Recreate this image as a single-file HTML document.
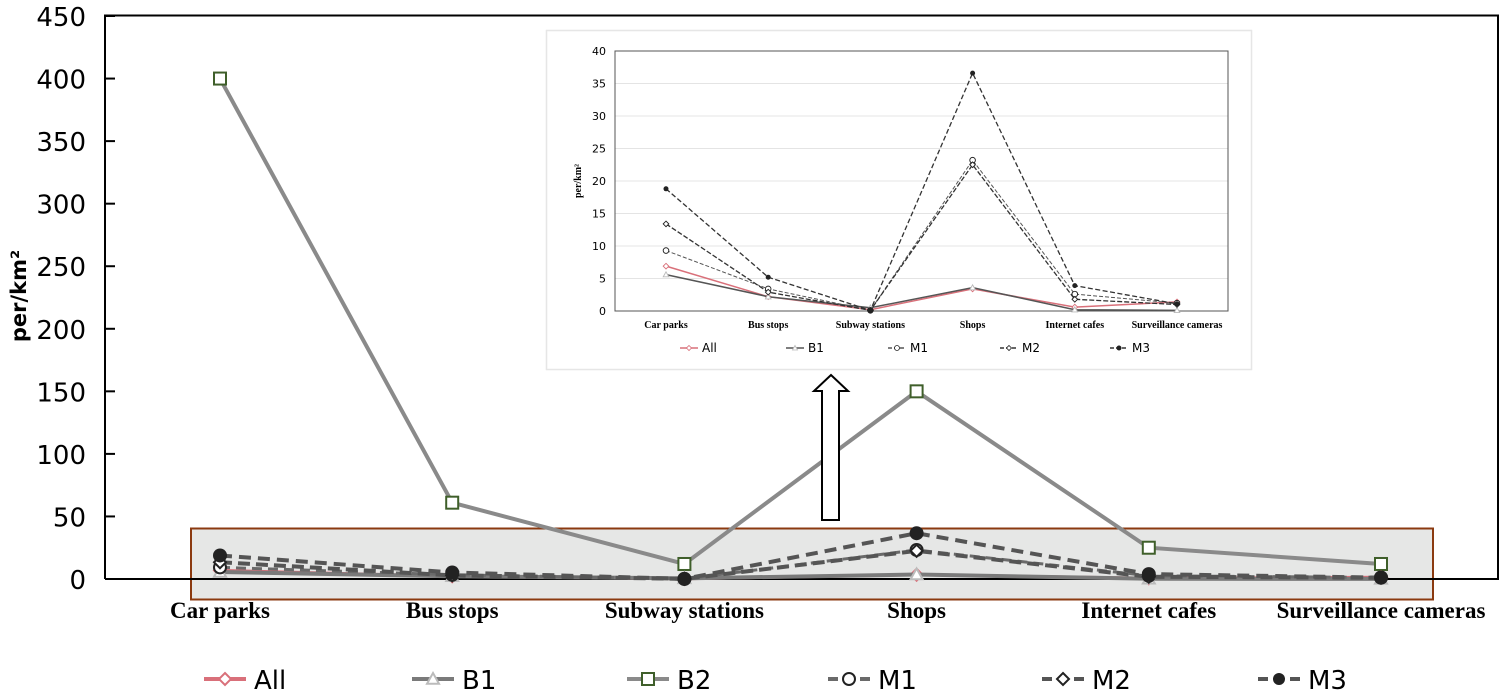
<!DOCTYPE html>
<html><head><meta charset="utf-8"><style>
html,body{margin:0;padding:0;background:#fff;}
svg{display:block;}
</style></head><body>
<svg id="s" xmlns="http://www.w3.org/2000/svg" width="1501" height="693" viewBox="0 0 1501 693"></svg>
<script>
var s=document.getElementById('s');var h='';
var cats=["Car parks","Bus stops","Subway stations","Shops","Internet cafes","Surveillance cameras"];
var D={All:[6.9,2.2,0.2,3.4,0.6,1.4],B1:[5.6,2.2,0.5,3.6,0.2,0.1],M1:[9.3,3.4,0.1,23.2,2.6,1.2],M2:[13.4,2.9,0.1,22.5,1.8,1.0],M3:[18.8,5.2,0.1,36.6,3.9,1.1],B2:[400,61,12,150,25,12]};
function mx(i){return 220+232.2*i;} function my(v){return 579-1.2511*v;}
h+='<rect x="191" y="528.5" width="1242" height="71" fill="#e6e7e6" stroke="#8b3a10" stroke-width="2"/>';
h+='<path d="M105,579 V15.5 H1498 V579 H105" fill="none" stroke="#000" stroke-width="2"/>';
for(var v=0;v<=450;v+=50){var y=my(v);h+='<line x1="105" x2="115" y1="'+y+'" y2="'+y+'" stroke="#000" stroke-width="2"/>';
h+='<text x="86" y="'+(y+10)+'" text-anchor="end" font-family="DejaVu Sans,Liberation Sans,sans-serif" font-size="26">'+v+'</text>';}
h+='<text transform="translate(26,296) rotate(-90)" text-anchor="middle" font-family="DejaVu Sans,Liberation Sans,sans-serif" font-weight="bold" font-size="21">per/km²</text>';
for(var i=0;i<6;i++)h+='<text x="'+mx(i)+'" y="618" text-anchor="middle" font-family="Liberation Serif,serif" font-weight="bold" font-size="23">'+cats[i]+'</text>';
function pts(a,fx,fy){return a.map(function(v,i){return fx(i)+','+fy(v)}).join(' ');}
var st={All:{c:'#d9707a',w:3,d:''},B1:{c:'#7a7a7a',w:4,d:''},B2:{c:'#8a8a8a',w:4,d:''},M1:{c:'#6a6a6a',w:3,d:'10,6'},M2:{c:'#555',w:4,d:'12,6'},M3:{c:'#555',w:4,d:'12,7'}};
function marker(k,x,y,sz,col){
 if(k=='All')return '<path d="M'+x+','+(y-sz)+' L'+(x+sz)+','+y+' L'+x+','+(y+sz)+' L'+(x-sz)+','+y+'Z" fill="#fff" stroke="'+col+'" stroke-width="'+sz/3+'"/>';
 if(k=='B1')return '<path d="M'+x+','+(y-sz)+' L'+(x+sz)+','+(y+sz*0.8)+' L'+(x-sz)+','+(y+sz*0.8)+'Z" fill="#fff" stroke="#bbb" stroke-width="'+sz/3+'"/>';
 if(k=='B2')return '<rect x="'+(x-sz)+'" y="'+(y-sz)+'" width="'+2*sz+'" height="'+2*sz+'" fill="#fff" stroke="#3f5f2a" stroke-width="'+sz/3+'"/>';
 if(k=='M1')return '<circle cx="'+x+'" cy="'+y+'" r="'+sz+'" fill="#fff" stroke="#222" stroke-width="'+sz/3+'"/>';
 if(k=='M2')return '<path d="M'+x+','+(y-sz)+' L'+(x+sz)+','+y+' L'+x+','+(y+sz)+' L'+(x-sz)+','+y+'Z" fill="#fff" stroke="#222" stroke-width="'+sz/3+'"/>';
 return '<circle cx="'+x+'" cy="'+y+'" r="'+sz+'" fill="#222"/>';}
var order=['B2','All','B1','M1','M2','M3'];
order.forEach(function(k){var o=st[k];h+='<polyline points="'+pts(D[k],mx,my)+'" fill="none" stroke="'+o.c+'" stroke-width="'+o.w+'" stroke-dasharray="'+o.d+'"/>';
 D[k].forEach(function(v,i){h+=marker(k,mx(i),my(v),k=='B2'?6:(k=='M3'?7:6),'#d9707a');});});
h+='<path d="M822,520 V391 H814 L831,375 L848,391 H839 V520 Z" fill="#fff" stroke="#000" stroke-width="2"/>';
h+='<rect x="546.5" y="30.5" width="705" height="339" fill="#fff" stroke="#e6e6e6" stroke-width="1.5"/>';
function ix(i){return 666+102.2*i;} function iy(v){return 311-6.5*v;}
for(var v=5;v<=35;v+=5)h+='<line x1="615" x2="1228" y1="'+iy(v)+'" y2="'+iy(v)+'" stroke="#e4e4e4" stroke-width="1"/>';
h+='<rect x="615" y="51" width="613" height="260" fill="none" stroke="#555" stroke-width="1"/>';
for(var v=0;v<=40;v+=5)h+='<text x="606" y="'+(iy(v)+4)+'" text-anchor="end" font-family="DejaVu Sans,Liberation Sans,sans-serif" font-size="11">'+v+'</text>';
h+='<text transform="translate(581,181) rotate(-90)" text-anchor="middle" font-family="Liberation Serif,serif" font-weight="bold" font-size="10">per/km²</text>';
for(var i=0;i<6;i++)h+='<text x="'+ix(i)+'" y="328" text-anchor="middle" font-family="Liberation Serif,serif" font-weight="bold" font-size="10">'+cats[i]+'</text>';
var ist={All:{c:'#d9707a',w:1.5,d:''},B1:{c:'#555',w:1.5,d:''},M1:{c:'#555',w:1,d:'4,2'},M2:{c:'#333',w:1.3,d:'5,2'},M3:{c:'#333',w:1.3,d:'5,2.5'}};
['All','B1','M1','M2','M3'].forEach(function(k){var o=ist[k];h+='<polyline points="'+pts(D[k],ix,iy)+'" fill="none" stroke="'+o.c+'" stroke-width="'+o.w+'" stroke-dasharray="'+o.d+'"/>';
 D[k].forEach(function(v,i){h+=marker(k,ix(i),iy(v),k=='M3'?2.5:2.8,'#d9707a');});});
var il=[['All',680],['B1',786],['M1',888],['M2',1000],['M3',1110]];
il.forEach(function(a){var k=a[0],x=a[1],o=ist[k];h+='<line x1="'+x+'" x2="'+(x+18)+'" y1="348" y2="348" stroke="'+o.c+'" stroke-width="1.5" stroke-dasharray="'+(o.d?'4,2':'')+'"/>'+marker(k,x+9,348,2.5,'#d9707a')+'<text x="'+(x+22)+'" y="352" font-family="DejaVu Sans,Liberation Sans,sans-serif" font-size="12">'+k+'</text>';});
var ml=[['All',204],['B1',412],['B2',627],['M1',828],['M2',1042],['M3',1258]];
ml.forEach(function(a){var k=a[0],x=a[1],o=st[k];h+='<line x1="'+x+'" x2="'+(x+42)+'" y1="679" y2="679" stroke="'+o.c+'" stroke-width="4" stroke-dasharray="'+(o.d?'10,6':'')+'"/>'+marker(k,x+21,679,6,'#d9707a')+'<text x="'+(x+50)+'" y="689" font-family="DejaVu Sans,Liberation Sans,sans-serif" font-size="26">'+k+'</text>';});
s.innerHTML=h;
</script>
</body></html>
